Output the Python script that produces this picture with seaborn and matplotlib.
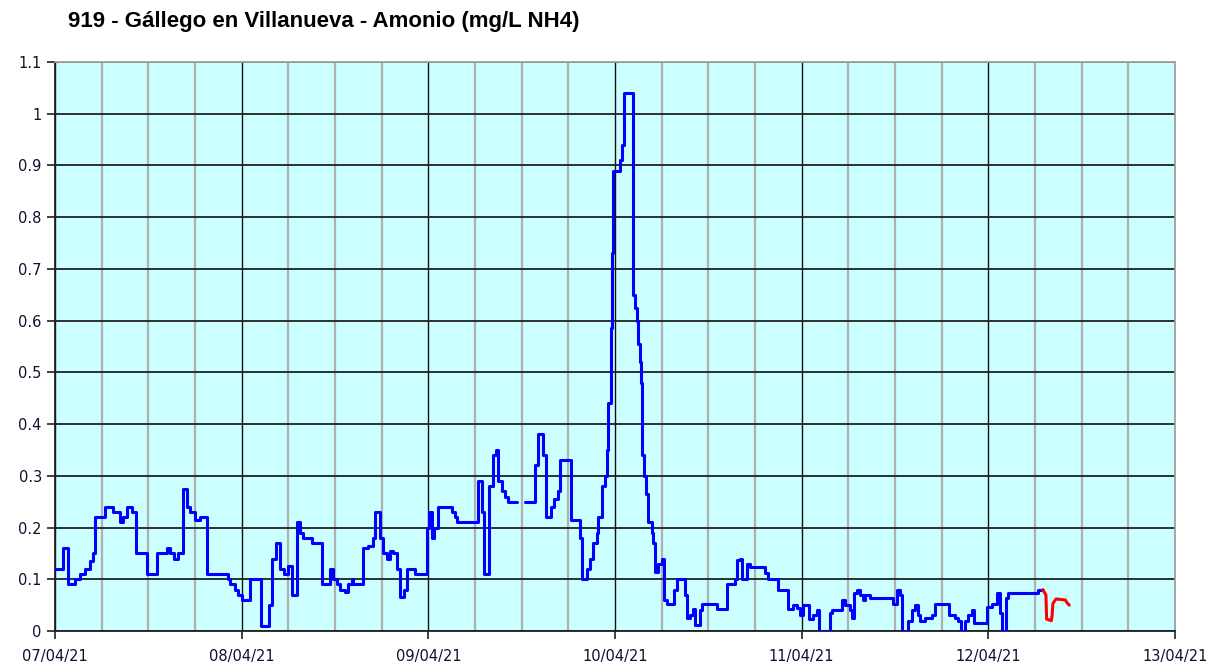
import numpy as np
import pandas as pd
import matplotlib
matplotlib.use('Agg')
import matplotlib.pyplot as plt
import matplotlib.dates as mdates
from matplotlib.ticker import MultipleLocator
import seaborn as sns

# ==============================================================================
# DATA (hours since 07/04/21 00:00, mg/L NH4)
# ==============================================================================
inicio = pd.Timestamp('2021-04-07 00:00')

horas_azul = [
    0, 1.0, 1.7, 2.6, 3.2, 3.9, 4.5, 4.9, 5.1, 6.4, 7.5, 8.4, 8.7, 9.3, 9.9,
    10.4, 11.8, 13.1, 14.4, 14.8, 15.3, 15.8, 16.5, 17.0, 17.4, 18.0, 18.6,
    19.5, 22.2, 22.5, 23.1, 23.5, 24.0, 25.1, 26.5, 27.5, 27.9, 28.4, 28.9,
    29.4, 30.0, 30.5, 31.1, 31.5, 31.9, 33.0, 34.3, 35.4, 35.7, 36.3, 36.6,
    37.3, 37.7, 38.2, 38.3, 39.6, 40.2, 40.9, 41.1, 41.8, 42.2, 42.7, 43.1,
    43.5, 44.0, 44.4, 44.9, 45.3, 46.3, 47.8, 48.1, 48.5, 48.7, 49.2, 51.0,
    51.4, 51.7, 54.4, 54.9, 55.2, 55.8, 56.3, 56.7, 57.0, 57.5, 57.9, 58.2,
    59.4,
    60.4, 61.7, 62.1, 62.7, 63.1, 63.8, 64.2, 64.7, 64.9, 66.3, 67.5, 67.8,
    68.4, 68.8, 69.2, 69.7, 69.8, 70.3, 70.7, 71.0, 71.1, 71.5, 71.6, 71.7,
    72.6, 72.9, 73.2, 74.3, 74.6, 74.8, 75.0, 75.2, 75.4, 75.5, 75.7, 76.0,
    76.3, 76.8, 76.9, 77.1, 77.5, 78.0, 78.3, 78.7, 79.6, 80.0, 81.0, 81.3,
    81.6, 82.0, 82.3, 82.9, 83.2, 85.1, 86.4, 87.4, 87.7, 88.1, 88.3, 89.0,
    89.4, 91.3, 91.7, 93.0, 94.2, 94.9, 95.4, 95.8, 96.2, 97.0, 97.5, 98.0,
    98.2, 99.6, 99.9, 101.2, 101.6, 102.2, 102.5, 102.7, 103.1, 103.5, 103.9,
    104.1, 104.8, 107.7, 108.3, 108.6, 108.9, 109.7, 110.2, 110.6, 110.9,
    111.2, 111.9, 112.8, 113.1, 114.9, 115.7, 116.1, 116.5, 117.0, 117.4,
    117.9, 118.2, 119.8, 120.5, 121.1, 121.5, 121.8, 122.3, 122.5, 126.4,
    127.0,
]
valores_azul = [
    0.12, 0.16, 0.09, 0.10, 0.11, 0.12, 0.135, 0.15, 0.22, 0.24, 0.23, 0.21,
    0.22, 0.24, 0.23, 0.15, 0.11, 0.15, 0.16, 0.15, 0.14, 0.15, 0.275, 0.24,
    0.23, 0.215, 0.22, 0.11, 0.10, 0.09, 0.08, 0.07, 0.06, 0.10, 0.01, 0.05,
    0.14, 0.17, 0.12, 0.11, 0.125, 0.07, 0.21, 0.19, 0.18, 0.17, 0.09, 0.12,
    0.10, 0.09, 0.08, 0.075, 0.09, 0.10, 0.09, 0.16, 0.165, 0.18, 0.23, 0.18,
    0.15, 0.14, 0.155, 0.15, 0.12, 0.065, 0.08, 0.12, 0.11, 0.20, 0.23, 0.18,
    0.20, 0.24, 0.23, 0.22, 0.21, 0.29, 0.23, 0.11, 0.28, 0.34, 0.35, 0.29,
    0.27, 0.26, 0.25, 0.25,
    0.25, 0.32, 0.38, 0.34, 0.22, 0.24, 0.255, 0.27, 0.33, 0.215, 0.18, 0.10,
    0.12, 0.14, 0.17, 0.19, 0.22, 0.28, 0.30, 0.35, 0.44, 0.585, 0.73, 0.89,
    0.91, 0.94, 1.04, 0.65, 0.625, 0.60, 0.555, 0.52, 0.48, 0.34, 0.30, 0.265,
    0.21, 0.19, 0.17, 0.115, 0.13, 0.14, 0.06, 0.053, 0.08, 0.10, 0.07, 0.025,
    0.03, 0.043, 0.012, 0.04, 0.052, 0.043, 0.09, 0.10, 0.137, 0.14, 0.10, 0.13,
    0.124, 0.113, 0.10, 0.08, 0.043, 0.05, 0.045, 0.03, 0.05, 0.023, 0.03, 0.04,
    0.0, 0.035, 0.04, 0.06, 0.05, 0.04, 0.025, 0.073, 0.08, 0.07, 0.06,
    0.07, 0.063, 0.053, 0.08, 0.07, 0.0, 0.02, 0.04, 0.05, 0.03,
    0.02, 0.025, 0.03, 0.053, 0.03, 0.025, 0.02, 0.0, 0.02, 0.03,
    0.04, 0.016, 0.047, 0.053, 0.073, 0.035, 0.0, 0.063, 0.073, 0.08,
    0.08,
]
# the blue series has a short gap in the data after 09/04 11:24
tramo_azul = [1] * 88 + [2] * (len(horas_azul) - 88)

horas_rojo = [127.0, 127.4, 127.5, 128.1, 128.2, 128.3, 128.7, 129.9, 130.1, 130.4]
valores_rojo = [0.08, 0.07, 0.023, 0.02, 0.03, 0.053, 0.062, 0.06, 0.055, 0.05]

titulo = '919 - Gállego en Villanueva - Amonio (mg/L NH4)'

# ==============================================================================
# PLOT
# ==============================================================================
sns.set_theme(style='white')
plt.rcParams['font.family'] = ['DejaVu Sans']

df_azul = pd.DataFrame({
    'fecha': inicio + pd.to_timedelta(horas_azul, unit='h'),
    'valor': valores_azul,
    'tramo': tramo_azul,
})
df_rojo = pd.DataFrame({
    'fecha': inicio + pd.to_timedelta(horas_rojo, unit='h'),
    'valor': valores_rojo,
})

fig = plt.figure(figsize=(12.16, 6.67), dpi=100)
ax = fig.add_axes([55 / 1216, 1 - 631 / 667, 1120 / 1216, 569 / 667])
ax.set_facecolor('#ccffff')

sns.lineplot(data=df_azul, x='fecha', y='valor', units='tramo', estimator=None,
             color='#0000ff', lw=2.2, drawstyle='steps-post', ax=ax, zorder=3)
sns.lineplot(data=df_rojo, x='fecha', y='valor', estimator=None,
             color='#ff0000', lw=2.2, ax=ax, zorder=3)

ax.set_xlim(inicio, inicio + pd.Timedelta(days=6))
ax.set_ylim(0, 1.1)

ax.xaxis.set_major_locator(mdates.DayLocator())
ax.xaxis.set_major_formatter(mdates.DateFormatter('%d/%m/%y'))
ax.xaxis.set_minor_locator(mdates.HourLocator(byhour=[6, 12, 18]))
ax.yaxis.set_major_locator(MultipleLocator(0.1))
ax.yaxis.set_major_formatter(plt.FuncFormatter(lambda v, p: f'{v:.1f}'.rstrip('0').rstrip('.') if v else '0'))

ax.grid(which='major', axis='y', color='#202020', lw=1.3)
ax.grid(which='major', axis='x', color='#101010', lw=1.0)
ax.grid(which='minor', axis='x', color='#b0b0b0', lw=1.6)
ax.set_axisbelow(True)
ax.yaxis.get_gridlines()[-1].set_visible(False)

ax.tick_params(axis='both', which='major', direction='out', length=6, width=1.2,
               color='#202020', labelsize=10.5, labelcolor='#101030', bottom=True, left=True)
ax.tick_params(axis='x', which='minor', length=0)
ax.tick_params(axis='x', pad=7)

for lado in ['left', 'bottom']:
    ax.spines[lado].set_color('#202020')
    ax.spines[lado].set_linewidth(1.3)
for lado in ['top', 'right']:
    ax.spines[lado].set_color('#a0a0a0')
    ax.spines[lado].set_linewidth(1.3)

ax.set_xlabel('')
ax.set_ylabel('')

fig.text(68 / 1216, 1 - 22 / 667, titulo, fontsize=16, fontweight='bold', color='black',
         family=['Liberation Sans', 'DejaVu Sans'], va='center', ha='left')

plt.savefig('out.png', dpi=100)
plt.close()
